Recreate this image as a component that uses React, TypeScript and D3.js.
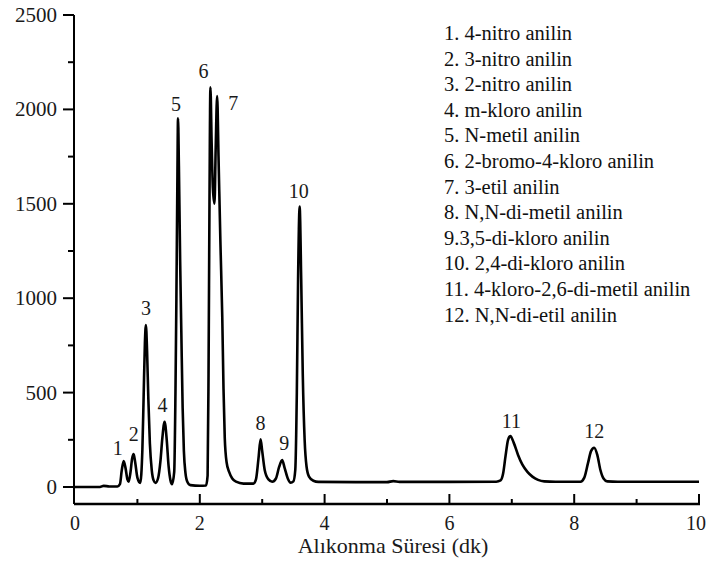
import React from "react";
import * as d3 from "d3";

// chromatogram trace (time in min, detector signal)
const retentionTime = [
  0, 0.4, 0.46, 0.55, 0.68, 0.72, 0.75, 0.78, 0.81, 0.84, 0.86, 0.89, 0.915, 0.94, 0.965, 1.0,
  1.045, 1.08, 1.1, 1.12, 1.136, 1.155, 1.175, 1.2, 1.23, 1.26, 1.29, 1.33, 1.37, 1.4, 1.436,
  1.47, 1.5, 1.53, 1.555, 1.59, 1.61, 1.625, 1.64, 1.651, 1.665, 1.685, 1.705, 1.725, 1.745,
  1.77, 1.8, 1.85, 2.0, 2.1, 2.125, 2.14, 2.155, 2.17, 2.19, 2.21, 2.235, 2.255, 2.278, 2.3,
  2.33, 2.36, 2.38, 2.4, 2.43, 2.47, 2.52, 2.58, 2.7, 2.86, 2.9, 2.94, 2.974, 3.0, 3.04, 3.1,
  3.16, 3.22, 3.27, 3.32, 3.36, 3.41, 3.456, 3.5, 3.53, 3.555, 3.575, 3.6, 3.625, 3.65, 3.68,
  3.71, 3.75, 3.82, 3.9, 4.5, 5.0, 5.1, 5.2, 6.0, 6.75, 6.82, 6.86, 6.9, 6.94, 6.977, 7.03,
  7.1, 7.17, 7.25, 7.33, 7.42, 7.52, 7.7, 8.1, 8.16, 8.22, 8.27, 8.32, 8.37, 8.42, 8.47, 8.53,
  8.7, 10.0,
];
const signal = [
  0, 0, 6, 3, 3, 15, 90, 138, 100, 40, 28, 80, 150, 175, 130, 50,
  22, 200, 480, 760, 858, 720, 470, 230, 90, 35, 22, 45, 140, 260, 346,
  250, 110, 35, 15, 80, 500, 1000, 1600, 1953, 1700, 1200, 800, 420, 190,
  75, 28, 10, 7, 8, 60, 600, 1500, 2117, 1820, 1580, 1500, 1800, 2071, 1750,
  1300, 900, 520, 260, 130, 80, 45, 28, 18, 18, 40, 150, 253, 190, 90, 40,
  28, 45, 105, 143, 100, 45, 23, 30, 90, 500, 1100, 1485, 1100, 600, 250,
  110, 55, 33, 27, 26, 26, 31, 27, 27, 28, 35, 70, 165, 250, 270, 235,
  170, 118, 80, 55, 38, 30, 28, 28, 48, 125, 190, 208, 170, 90, 45, 30,
  28, 28,
];

const peakNumbers = ["1", "2", "3", "4", "5", "6", "7", "8", "9", "10", "11", "12"];
const peakTimes = [0.78, 0.94, 1.136, 1.436, 1.651, 2.17, 2.278, 2.974, 3.32, 3.6, 6.977, 8.32];
const peakHeights = [138, 175, 858, 346, 1953, 2117, 2071, 253, 143, 1485, 270, 208];

const compounds = [
  "1. 4-nitro anilin",
  "2. 3-nitro anilin",
  "3. 2-nitro anilin",
  "4. m-kloro anilin",
  "5. N-metil anilin",
  "6. 2-bromo-4-kloro anilin",
  "7. 3-etil anilin",
  "8. N,N-di-metil anilin",
  "9.3,5-di-kloro anilin",
  "10. 2,4-di-kloro anilin",
  "11. 4-kloro-2,6-di-metil anilin",
  "12. N,N-di-etil anilin",
];

const yTicks = [0, 500, 1000, 1500, 2000, 2500];
const yMinorTicks = [250, 750, 1250, 1750, 2250];
const xTicks = [0, 2, 4, 6, 8, 10];
const xMinorTicks = [1, 3, 5, 7, 9];
const xTitle = "Alıkonma Süresi (dk)";

// label nudges in px (dx, gap above apex)
const labelNudge = [
  [-6, 6], [0, 13], [0, 10], [-2, 10], [-2, 7], [-7, 9],
  [16, -14], [0, 9], [2, 10], [-1, 9], [1, 8], [0, 10],
];

const font = "'Liberation Serif', 'Times New Roman', serif";

export default function App() {
  const width = 707;
  const height = 562;
  const x = d3.scaleLinear().domain([0, 10]).range([75, 699]);
  const y = d3.scaleLinear().domain([0, 2500]).range([487, 15]);
  const axisX = 74;
  const axisY = 504;

  const line = d3
    .line<number>()
    .x((d, i) => x(retentionTime[i]))
    .y((d) => y(d))
    .curve(d3.curveMonotoneX);

  return (
    <svg
      width={width}
      height={height}
      style={{ position: "absolute", left: 0, top: 0, background: "#fff" }}
      fontFamily={font}
    >
      {/* y axis */}
      <line x1={axisX} x2={axisX} y1={y(2500)} y2={axisY} stroke="#000" strokeWidth={2} />
      {yTicks.map((t) => (
        <g key={"y" + t}>
          <line x1={axisX - 11} x2={axisX} y1={y(t)} y2={y(t)} stroke="#000" strokeWidth={2} />
          <text x={57} y={y(t) + 7} textAnchor="end" fontSize={21} fill="#1a1a1a">
            {t}
          </text>
        </g>
      ))}
      {yMinorTicks.map((t) => (
        <line key={"ym" + t} x1={axisX - 6} x2={axisX} y1={y(t)} y2={y(t)} stroke="#000" strokeWidth={2} />
      ))}

      {/* x axis */}
      <line x1={axisX} x2={x(10) + 1} y1={axisY} y2={axisY} stroke="#000" strokeWidth={2.5} />
      {xTicks.map((t) => (
        <g key={"x" + t}>
          {t > 0 && (
            <line x1={x(t)} x2={x(t)} y1={axisY} y2={axisY - 10} stroke="#000" strokeWidth={2} />
          )}
          <text x={Math.min(x(t), 696)} y={530} textAnchor="middle" fontSize={20} fill="#1a1a1a">
            {t}
          </text>
        </g>
      ))}
      {xMinorTicks.map((t) => (
        <line key={"xm" + t} x1={x(t)} x2={x(t)} y1={axisY} y2={axisY - 5} stroke="#000" strokeWidth={2} />
      ))}
      <text x={393} y={553} textAnchor="middle" fontSize={22} fill="#1a1a1a">
        {xTitle}
      </text>

      {/* trace */}
      <path d={line(signal) || ""} fill="none" stroke="#000" strokeWidth={2.6} strokeLinejoin="round" />

      {/* peak numbers */}
      {peakNumbers.map((p, i) => (
        <text
          key={"p" + p}
          x={x(peakTimes[i]) + labelNudge[i][0]}
          y={y(peakHeights[i]) - labelNudge[i][1]}
          textAnchor="middle"
          fontSize={20}
          fill="#1a1a1a"
        >
          {p}
        </text>
      ))}

      {/* compound list */}
      {compounds.map((c, i) => (
        <text key={c} x={444} y={40 + i * 25.6} fontSize={20.5} fill="#111">
          {c}
        </text>
      ))}
    </svg>
  );
}
